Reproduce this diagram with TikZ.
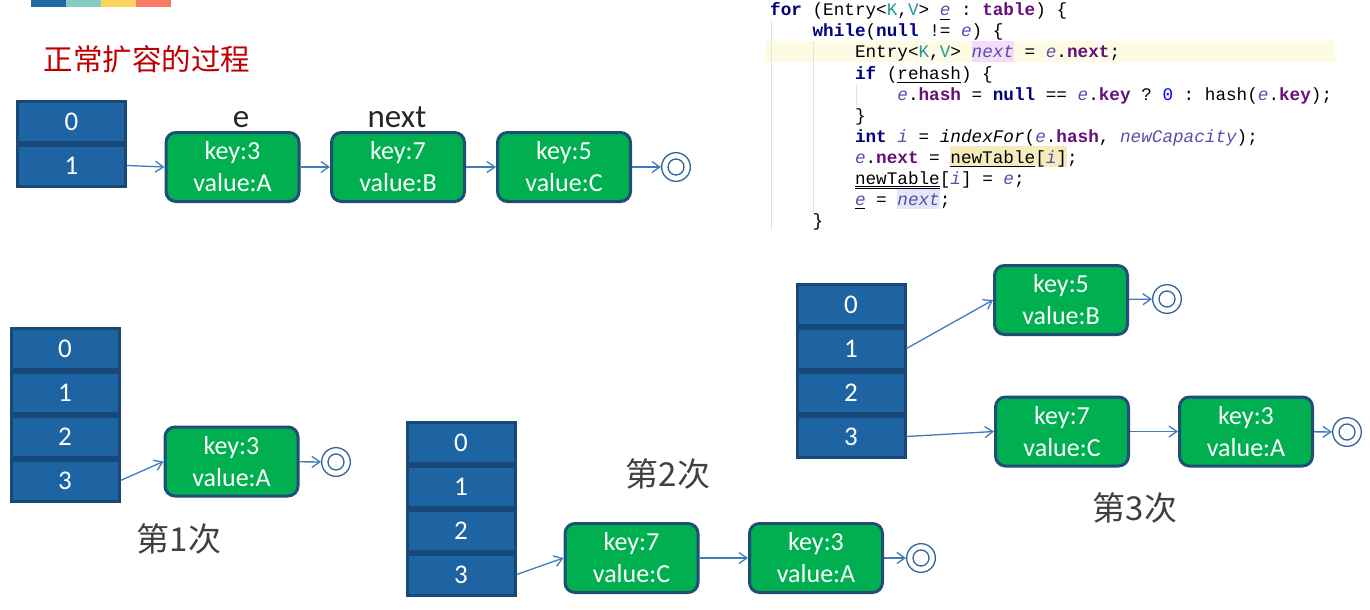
\documentclass[tikz,border=0pt]{standalone}
\usepackage{fontspec}
\usetikzlibrary{arrows.meta}
\setmainfont{Carlito}
\newfontfamily\cjkfont{Noto Sans CJK SC}
\newfontfamily\codefont[WordSpace={1,0,0}]{Liberation Mono}
\definecolor{cellblue}{HTML}{1F64A2}
\definecolor{cellline}{HTML}{174878}
\definecolor{entrygreen}{HTML}{00B050}
\definecolor{entryline}{HTML}{1F4E79}
\definecolor{linkblue}{HTML}{3F7DBA}
\definecolor{ringblue}{HTML}{2E6396}
\definecolor{titlered}{HTML}{C00000}
\definecolor{labelgray}{HTML}{404040}
\definecolor{kwnavy}{HTML}{000080}
\definecolor{tpteal}{HTML}{20999D}
\definecolor{varpurple}{HTML}{5A4FA8}
\definecolor{fieldpurple}{HTML}{660E7A}
\definecolor{numblue}{HTML}{0000FF}
\definecolor{linebg}{HTML}{FEFBE4}
\definecolor{pinkbg}{HTML}{F6DDF7}
\definecolor{yellowbg}{HTML}{F6EBBA}
\definecolor{lilacbg}{HTML}{E6E6FA}
\definecolor{guidegray}{HTML}{E2E2E2}
\definecolor{barblue}{HTML}{1F6AA5}
\definecolor{barteal}{HTML}{85CBBF}
\definecolor{baryellow}{HTML}{F9D35C}
\definecolor{barred}{HTML}{F67A66}
\newcommand\kw[1]{\textbf{\color{kwnavy}#1}}
\newcommand\tv[1]{{\color{tpteal}#1}}
\newcommand\lv[1]{\textit{\color{varpurple}#1}}
\newcommand\fd[1]{\textbf{\color{fieldpurple}#1}}
\newcommand\nm[1]{{\color{numblue}#1}}
\begin{document}
\begin{tikzpicture}[x=1pt,y=-1pt,
    cell/.style={draw=cellline, fill=cellblue, line width=3pt, minimum width=108pt,
      minimum height=41pt, inner sep=0pt, text=white, font=\fontsize{27}{32}\selectfont},
    entry/.style={draw=entryline, fill=entrygreen, line width=3pt, rounded corners=10pt,
      minimum width=133pt, minimum height=69pt, inner sep=0pt, align=center,
      text=white, font=\fontsize{26}{32}\selectfont},
    nullmark/.style={circle, draw=ringblue, line width=1.3pt, minimum size=28.7pt, inner sep=0pt},
    ring/.style={draw=ringblue, line width=1.3pt},
    link/.style={draw=linkblue, line width=1.3pt, -{Straight Barb[length=8pt,width=11pt]}},
    ptr/.style={anchor=base, text=black!85, font=\fontsize{33}{40}\selectfont},
    round/.style={text=labelgray, font=\cjkfont\fontsize{33}{40}\selectfont},
    codeline/.style={anchor=base west, inner sep=0pt, font=\codefont\frenchspacing\fontsize{17.67}{21}\selectfont}]
  \useasboundingbox (0,0) rectangle (1370,610);
  % colour bar
  \fill[barblue] (31,0) rectangle (66,7);
  \fill[barteal] (66,0) rectangle (101,7);
  \fill[baryellow] (101,0) rectangle (136,7);
  \fill[barred] (136,0) rectangle (171,7);
  \node[text=titlered, font=\cjkfont\fontsize{29.5}{34}\selectfont] (title) at (147,59) {正常扩容的过程};

  % code
  \fill[linebg] (765,41) rectangle (1335,62);
  \fill[pinkbg] (971.6,41) rectangle (1014,62);
  \fill[yellowbg] (950.4,146) rectangle (1067,167);
  \fill[lilacbg] (897.4,188) rectangle (939.8,209);
  \draw[guidegray, line width=1pt] (771,20) -- (771,230);
  \draw[guidegray, line width=1pt] (813,42) -- (813,212);
  \draw[guidegray, line width=1pt] (856,84) -- (856,107);
  \node[codeline] (l1) at (770,16) {\kw{for} (Entry<\tv{K},\tv{V}> \lv{e} : \fd{table}) \{};
  \node[codeline] (l2) at (812.4,37) {\kw{while}(\kw{null} != \lv{e}) \{};
  \node[codeline] (l3) at (854.8,58) {Entry<\tv{K},\tv{V}> \lv{next} = \lv{e}.\fd{next};};
  \node[codeline] (l4) at (854.8,79) {\kw{if} (rehash) \{};
  \node[codeline] (l5) at (897.2,100) {\lv{e}.\fd{hash} = \kw{null} == \lv{e}.\fd{key} ? \nm{0} : hash(\lv{e}.\fd{key});};
  \node[codeline] (l6) at (854.8,121) {\}};
  \node[codeline] (l7) at (854.8,142) {\kw{int} \lv{i} = \textit{indexFor}(\lv{e}.\fd{hash}, \lv{newCapacity});};
  \node[codeline] (l8) at (854.8,163) {\lv{e}.\fd{next} = newTable[\lv{i}];};
  \node[codeline] (l9) at (854.8,184) {newTable[\lv{i}] = \lv{e};};
  \node[codeline] (l10) at (854.8,205) {\lv{e} = \lv{next};};
  \node[codeline] (l11) at (812.4,226) {\}};
  \begin{scope}[line width=0.9pt]
    \draw (939.6,19) -- (950.2,19);
    \draw (897.4,82) -- (961,82);
    \draw (950.4,166) -- (1035.2,166);
    \draw (854.8,186.5) -- (939.6,186.5);
    \draw (854.8,188.5) -- (939.6,188.5);
    \draw (854.8,208) -- (865.4,208);
  \end{scope}

  % before resize
  \node[cell] (t0) at (71.5,121.5) {0};
  \node[cell] (t1) at (71.5,165.5) {1};
  \node[entry] (ta) at (232.5,167) {key:3\\value:A};
  \node[entry] (tb) at (398,167) {key:7\\value:B};
  \node[entry] (tc) at (564,167) {key:5\\value:C};
  \node[nullmark] (tz) at (676,167) {};
  \draw[ring] (tz.center) circle (8pt);
  \node[ptr] (pe) at (241,127) {e};
  \node[ptr] (pn) at (397,127) {next};
  \draw[link] (t1.east) -- (ta.west);
  \draw[link] (ta) -- (tb);
  \draw[link] (tb) -- (tc);
  \draw[link] (tc) -- (tz);

  % 1st
  \node[cell] (p0) at (65,348.5) {0};
  \node[cell] (p1) at (65,392.5) {1};
  \node[cell] (p2) at (65,436.5) {2};
  \node[cell] (p3) at (65,480.5) {3};
  \node[entry] (pa) at (231.5,461.5) {key:3\\value:A};
  \node[nullmark] (pz) at (336,462) {};
  \draw[ring] (pz.center) circle (8pt);
  \draw[link] (p3.east) -- (pa.west);
  \draw[link] (pa) -- (pz);
  \node[round] (r1) at (179,539) {第1次};

  % 2nd
  \node[cell] (q0) at (461,442.5) {0};
  \node[cell] (q1) at (461,486.5) {1};
  \node[cell] (q2) at (461,530.5) {2};
  \node[cell] (q3) at (461,574.5) {3};
  \node[entry] (qa) at (631.5,558) {key:7\\value:C};
  \node[entry] (qb) at (816,558) {key:3\\value:A};
  \node[nullmark] (qz) at (921,558) {};
  \draw[ring] (qz.center) circle (8pt);
  \draw[link] (q3.east) -- (qa.west);
  \draw[link] (qa) -- (qb);
  \draw[link] (qb) -- (qz);
  \node[round] (r2) at (668,474) {第2次};

  % 3rd
  \node[cell] (s0) at (851,304.5) {0};
  \node[cell] (s1) at (851,348.5) {1};
  \node[cell] (s2) at (851,392.5) {2};
  \node[cell] (s3) at (851,436.5) {3};
  \node[entry] (sa) at (1061,300) {key:5\\value:B};
  \node[nullmark] (sy) at (1167,299) {};
  \draw[ring] (sy.center) circle (8pt);
  \node[entry] (sb) at (1062,431.5) {key:7\\value:C};
  \node[entry] (sc) at (1246,431.5) {key:3\\value:A};
  \node[nullmark] (sz) at (1347,432) {};
  \draw[ring] (sz.center) circle (8pt);
  \draw[link] (s1.east) -- (sa.west);
  \draw[link] (sa) -- (sy);
  \draw[link] (s3.east) -- (sb.west);
  \draw[link] (sb) -- (sc);
  \draw[link] (sc) -- (sz);
  \node[round] (r3) at (1135,508) {第3次};
\end{tikzpicture}
\end{document}
